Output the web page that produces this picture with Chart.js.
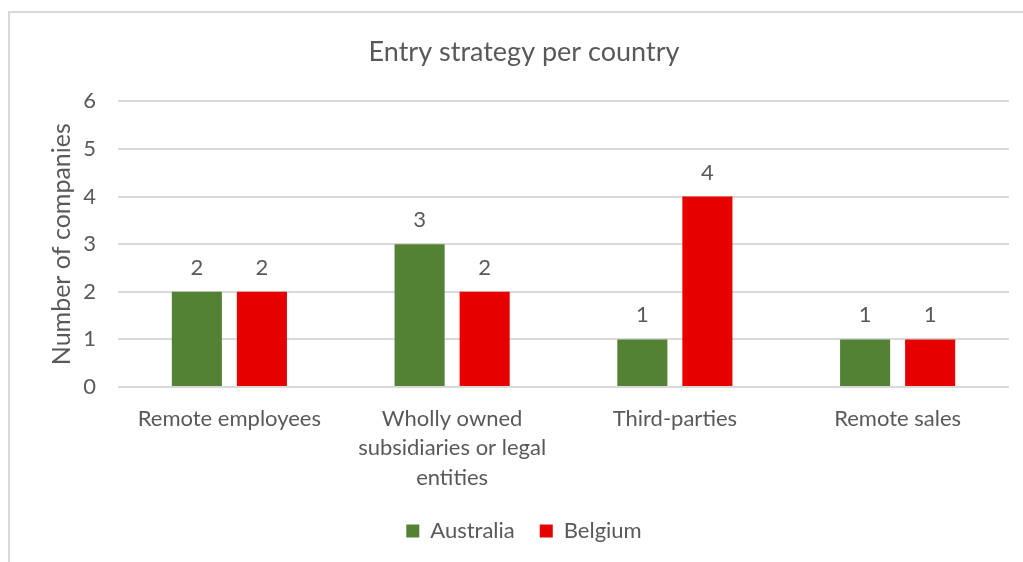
<!DOCTYPE html>
<html>
<head>
<meta charset="utf-8">
<script src="https://cdn.jsdelivr.net/npm/chart.js@4"></script>
<style>
  html, body { margin: 0; padding: 0; background: #fff; overflow: hidden; }
  #frame { position: absolute; left: 8px; top: 11px; width: 1040px; height: 600px; border: 2px solid #d9d9d9; }
  #chart { position: absolute; left: 0; top: 0; }
</style>
</head>
<body>
<div id="frame"></div>
<canvas id="chart" width="1023" height="562"></canvas>
<script>
// categorie e valori
const categories = [
  'Remote employees',
  ['Wholly owned', 'subsidiaries or legal', 'entities'],
  'Third-parties',
  'Remote sales'
]
const australia = [2, 3, 1, 1]
const belgium   = [2, 2, 4, 1]
const yTicks    = [0, 1, 2, 3, 4, 5, 6]

const GREY = '#595959'
const FONT = 'Lato, "Open Sans", sans-serif'

// etichette con il valore sopra ogni barra
const valueLabels = {
  id: 'valueLabels',
  afterDatasetsDraw(chart) {
    const ctx = chart.ctx
    ctx.save()
    ctx.font = '22px ' + FONT
    ctx.fillStyle = GREY
    ctx.textAlign = 'center'
    ctx.textBaseline = 'middle'
    chart.data.datasets.forEach((ds, i) => {
      chart.getDatasetMeta(i).data.forEach((bar, j) => {
        ctx.fillText(String(ds.data[j]), bar.x, bar.y - 24)
      })
    })
    ctx.restore()
  }
}

new Chart(document.getElementById('chart'), {
  type: 'bar',
  data: {
    labels: categories,
    datasets: [
      { label: 'Australia', data: australia, backgroundColor: '#548235' },
      { label: 'Belgium',   data: belgium,   backgroundColor: '#e60000' }
    ]
  },
  options: {
    responsive: false,
    animation: false,
    layout: { padding: { left: 39, right: 14, top: 0, bottom: 10 } },
    datasets: { bar: { categoryPercentage: 0.584, barPercentage: 0.77 } },
    plugins: {
      title: {
        display: true,
        text: 'Entry strategy per country',
        color: GREY,
        font: { family: FONT, size: 27, weight: 'normal' },
        padding: { top: 36, bottom: 33 }
      },
      legend: {
        position: 'bottom',
        labels: {
          color: GREY,
          font: { family: FONT, size: 22 },
          boxWidth: 13,
          boxHeight: 13,
          padding: 25
        }
      },
      tooltip: { enabled: false }
    },
    scales: {
      x: {
        grid: { display: false },
        border: { display: false },
        ticks: {
          color: GREY,
          font: { family: FONT, size: 22, lineHeight: 1.34 },
          padding: 9,
          maxRotation: 0,
          autoSkip: false
        },
        afterFit: s => { s.height = 108 }
      },
      y: {
        min: 0,
        max: 6,
        afterBuildTicks: s => { s.ticks = yTicks.map(v => ({ value: v })) },
        grid: { color: '#d9d9d9', lineWidth: 2, drawTicks: false },
        border: { display: false },
        ticks: {
          color: GREY,
          font: { family: FONT, size: 22 },
          padding: 22
        },
        title: {
          display: true,
          text: 'Number of companies',
          color: GREY,
          font: { family: FONT, size: 25 },
          padding: { top: 8, bottom: 0 }
        },
        afterFit: s => { s.width = 79 }
      }
    }
  },
  plugins: [valueLabels]
})
</script>
</body>
</html>
